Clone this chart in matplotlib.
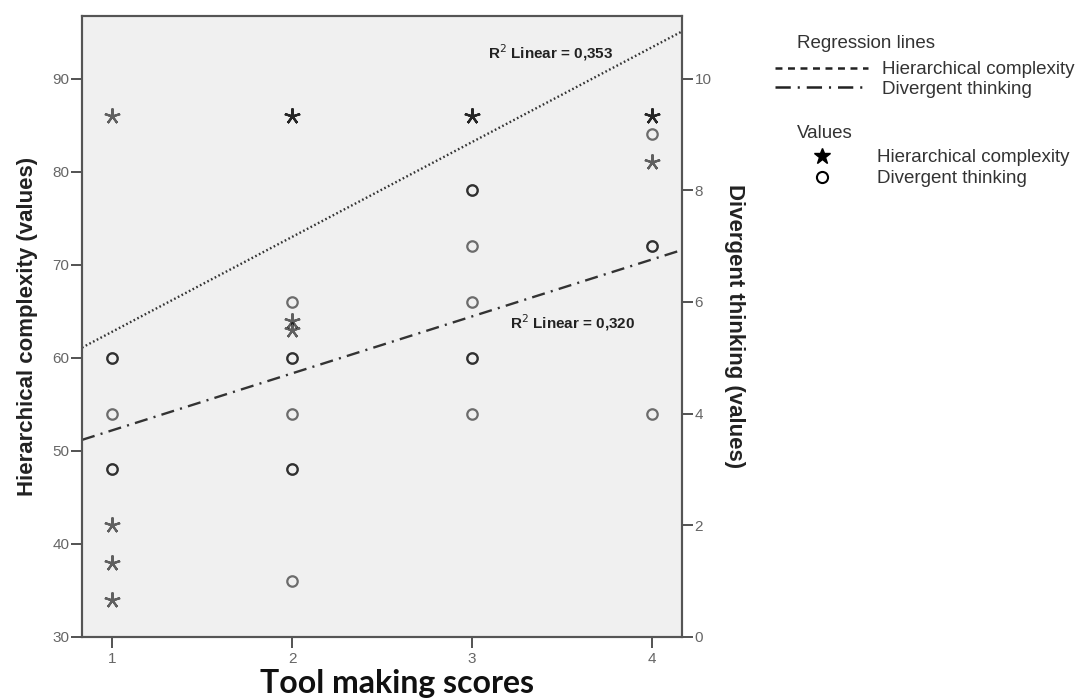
import matplotlib
matplotlib.use("Agg")
import matplotlib.pyplot as plt
from matplotlib.lines import Line2D
import numpy as np

# tool making score (x) and the two outcome variables
hc_x = [1, 1, 1, 1, 2, 2, 2, 2, 3, 3, 4, 4, 4]
hc_y = [86, 42, 38, 34, 86, 86, 64, 63, 86, 86, 86, 86, 81]

dt_x = [1, 1, 1, 1, 1, 2, 2, 2, 2, 2, 2, 2, 3, 3, 3, 3, 3, 3, 3, 4, 4, 4, 4]
dt_y = [5, 5, 4, 3, 3, 6, 5, 5, 4, 3, 3, 1, 8, 8, 7, 6, 5, 5, 4, 9, 7, 7, 4]

# regression lines (intercept, slope)
hc_fit = (52.6, 10.19)
dt_fit = (2.68, 1.02)
hc_r2 = "0,353"
dt_r2 = "0,320"

plt.rcParams['font.family'] = ['Liberation Sans', 'DejaVu Sans']
plt.rcParams['lines.scale_dashes'] = False

W, H = 1079, 699
fig = plt.figure(figsize=(W / 100, H / 100), dpi=100)
ax = fig.add_axes([82 / W, 1 - 637 / H, 600 / W, (637 - 15.7) / H])
ax.set_facecolor('#f0f0f0')
ax2 = ax.twinx()

xlim = (0.833, 4.167)
ax.set_xlim(*xlim)
ax.set_ylim(30, 96.75)
ax2.set_ylim(0, 11.125)

xs = np.array(xlim)
ax.plot(xs, hc_fit[0] + hc_fit[1] * xs, color='#333333', lw=1.7,
        linestyle=(0, (1.2, 1.8)), zorder=2)
ax2.plot(xs, dt_fit[0] + dt_fit[1] * xs, color='#333333', lw=1.7,
         linestyle=(0, (9.5, 4.5, 1.5, 4.5)), zorder=2)

star = (5, 2, 0)
ax.plot(hc_x, hc_y, linestyle='none', marker=star, ms=11.5, mew=1.6,
        color='black', alpha=0.6, zorder=3)
ax2.plot(dt_x, dt_y, linestyle='none', marker='o', ms=7.5, mew=1.6,
         mfc='none', mec='black', alpha=0.55, zorder=3)

ax.text(3.44, 92.8, "R$^2$ Linear = " + hc_r2, fontsize=11, fontweight='bold',
        ha='center', va='center', color='#222222')
ax.text(3.56, 63.8, "R$^2$ Linear = " + dt_r2, fontsize=11, fontweight='bold',
        ha='center', va='center', color='#222222')

ax.set_xticks([1, 2, 3, 4])
ax.set_yticks(range(30, 100, 10))
ax2.set_yticks(range(0, 12, 2))
for a in (ax, ax2):
    a.tick_params(length=8, width=1.3, color='#444444', labelcolor='#666666',
                  labelsize=11, pad=1)
    for s in a.spines.values():
        s.set_color('#555555')
        s.set_linewidth(1.5)
ax.tick_params(axis='x', pad=3)

ax.set_ylabel("Hierarchical complexity (values)", fontsize=16, fontweight='bold',
              color='#222222')
ax.yaxis.set_label_coords(-0.074, 0.5)
ax2.set_ylabel("Divergent thinking (values)", fontsize=16, fontweight='bold',
               color='#222222', rotation=-90, va='bottom')
ax2.yaxis.set_label_coords(1.07, 0.5)

fig.text(397 / W, 1 - 683 / H, "Tool making scores", fontsize=23,
         fontweight='bold', family=['Lato', 'DejaVu Sans'], ha='center',
         va='center', color='#111111')

# legend blocks
fig.text(797 / W, 1 - 43 / H, "Regression lines", fontsize=13.5, color='#333333',
         va='center')
fig.text(797 / W, 1 - 133 / H, "Values", fontsize=13.5, color='#333333',
         va='center')

line_handles = [
    Line2D([], [], color='#222222', lw=1.8, linestyle=(0, (5, 4))),
    Line2D([], [], color='#222222', lw=1.8, linestyle=(0, (11, 5, 1.5, 5))),
]
fig.legend(line_handles, ["Hierarchical complexity", "Divergent thinking"],
           loc='upper left', bbox_to_anchor=(766 / W, 1 - 52 / H),
           frameon=False, fontsize=13.5, handlelength=4.95,
           handletextpad=0.75, labelspacing=0.1, borderpad=0,
           labelcolor='#333333')

marker_handles = [
    Line2D([], [], color='black', linestyle='none', marker='*', ms=12),
    Line2D([], [], color='black', linestyle='none', marker='o', ms=8,
           mfc='none', mew=1.5),
]
fig.legend(marker_handles, ["Hierarchical complexity", "Divergent thinking"],
           loc='upper left', bbox_to_anchor=(766 / W, 1 - 140 / H),
           frameon=False, fontsize=13.5, handlelength=4.95,
           handletextpad=0.45, labelspacing=0.2, borderpad=0,
           labelcolor='#333333')

fig.savefig("out.png", dpi=100)
